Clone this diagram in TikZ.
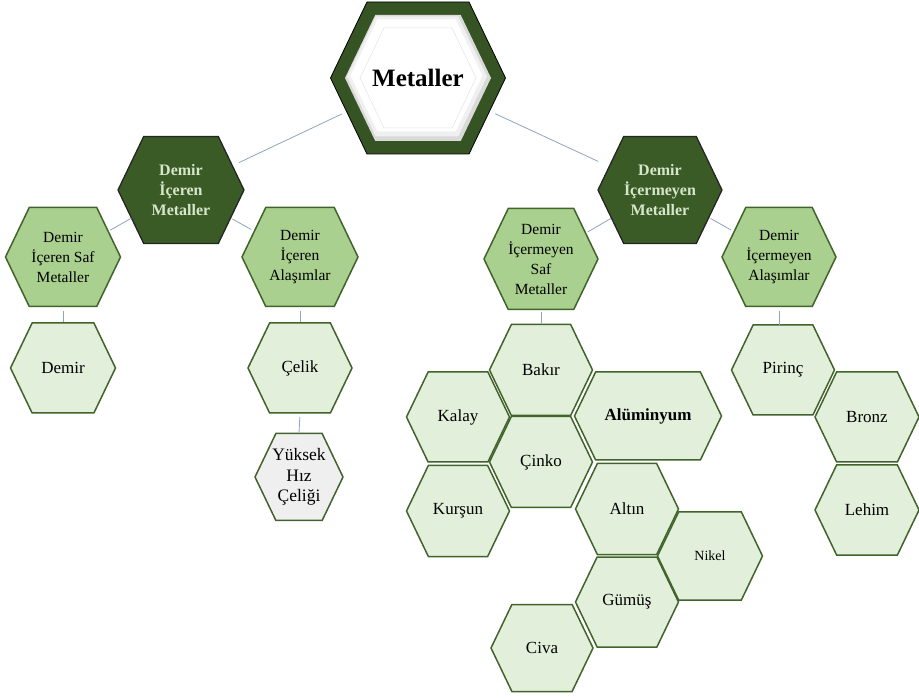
\documentclass[tikz,border=0pt]{standalone}
\usepackage{fontspec}
\setmainfont{Liberation Serif}
\usetikzlibrary{backgrounds,calc}

\definecolor{darkfill}{HTML}{3A5A26}
\definecolor{darktext}{HTML}{D6E6CB}
\definecolor{midfill}{HTML}{A9D08E}
\definecolor{leaffill}{HTML}{E2EFDA}
\definecolor{palefill}{HTML}{EFEFEF}
\definecolor{hexline}{HTML}{41632C}
\definecolor{linkcol}{HTML}{8EA5BF}

% hexagon cell: #1 kind, #2 name, #3 centre, #4 width, #5 height, #6 text
\newcommand\hexcell[6]{%
  \node[hexnode, #1 text, minimum width=#4pt, minimum height=#5pt] (#2) at (#3) {#6};
  \begin{pgfonlayer}{background}
    \path[#1 hex] (#2.west)
      -- ([xshift={0.24*#5}]#2.north west) -- ([xshift={-0.24*#5}]#2.north east)
      -- (#2.east)
      -- ([xshift={-0.24*#5}]#2.south east) -- ([xshift={0.24*#5}]#2.south west)
      -- cycle;
  \end{pgfonlayer}}

% plain hexagon: #1 style, #2 centre, #3 half width, #4 half height
\newcommand\hexshape[4]{%
  \path[#1] (#2) +(-#3,0) -- +({-#3+0.48*#4},-#4) -- +({#3-0.48*#4},-#4)
    -- +(#3,0) -- +({#3-0.48*#4},#4) -- +({-#3+0.48*#4},#4) -- cycle;}

\begin{document}
\begin{tikzpicture}[x=1pt,y=-1pt,
  hexnode/.style={rectangle, inner sep=0pt, outer sep=0pt, align=center},
  top hex/.style={fill=darkfill!92!black, draw=black, line width=0.8pt},
  top text/.style={font=\bfseries\fontsize{25}{28}\selectfont},
  dark hex/.style={fill=darkfill, draw=black!85, line width=1.3pt},
  dark text/.style={font=\bfseries\fontsize{16}{20}\selectfont, text=darktext},
  mid hex/.style={fill=midfill, draw=hexline, line width=1.5pt},
  mid text/.style={font=\fontsize{15.5}{20}\selectfont},
  leaf hex/.style={fill=leaffill, draw=hexline, line width=1.5pt},
  leaf text/.style={font=\fontsize{17}{20.5}\selectfont},
  pale hex/.style={fill=palefill, draw=hexline, line width=1.5pt},
  pale text/.style={font=\fontsize{17.5}{20.5}\selectfont},
  link/.style={draw=linkcol, line width=0.8pt}]

\useasboundingbox (0,0) rectangle (919,700);

% root with a soft bevelled white face
\hexcell{top}{meta}{418,78}{175}{152}{Metaller}
\begin{pgfonlayer}{background}
  \hexshape{fill=gray!30}{meta.center}{73}{63}
  \hexshape{fill=gray!12}{$(meta.center)+(-1,-1.5)$}{70}{60}
  \hexshape{fill=white}{$(meta.center)+(-1.5,-2.5)$}{66}{56}
  \hexshape{draw=gray!22, line width=0.5pt}{meta.center}{58}{50}
\end{pgfonlayer}

% second level
\hexcell{dark}{dl}{181,190}{126}{107}{Demir\\İçeren\\Metaller}
\hexcell{dark}{dr}{660,190}{124}{107}{Demir\\İçermeyen\\Metaller}

% third level
\hexcell{mid}{s1}{63,257}{115}{99}{Demir\\İçeren Saf\\Metaller}
\hexcell{mid}{a1}{300,257}{116}{99}{Demir\\İçeren\\Alaşımlar}
\hexcell{mid}{s2}{541,259}{114}{101}{Demir\\İçermeyen\\Saf\\Metaller}
\hexcell{mid}{a2}{779,257}{114}{99}{Demir\\İçermeyen\\Alaşımlar}

% iron-bearing leaves
\hexcell{leaf}{demir}{63,368}{105}{90}{Demir}
\hexcell{leaf}{celik}{300,368}{104}{90}{Çelik}
\hexcell{pale}{yuksek}{299,477}{88}{87}{Yüksek\\Hız\\Çeliği}

% non-ferrous pure metals
\hexcell{leaf}{bakir}{541,370}{103}{91}{Bakır}
\hexcell{leaf}{kalay}{458,417}{103}{90}{Kalay}
\hexcell{leaf}{alum}{648,416}{147}{88}{\textbf{Alüminyum}}
\hexcell{leaf}{cinko}{541,462}{103}{91}{Çinko}
\hexcell{leaf}{kursun}{458,511}{103}{91}{Kurşun}
\hexcell{leaf}{altin}{627,509}{103}{91}{Altın}
\hexcell{leaf}{nikel}{710,556}{105}{88}{\fontsize{14}{17}\selectfont Nikel}
\hexcell{leaf}{gumus}{627,602}{103}{90}{Gümüş}
\hexcell{leaf}{civa}{542,648}{102}{87}{Civa}

% non-ferrous alloys
\hexcell{leaf}{pirinc}{783,370}{103}{90}{Pirinç}
\hexcell{leaf}{bronz}{867,417}{104}{90}{Bronz}
\hexcell{leaf}{lehim}{867,510}{104}{90}{Lehim}

% connectors
\draw[link, shorten <=84pt, shorten >=64pt] (meta.center) -- (dl.center);
\draw[link, shorten <=85pt, shorten >=68pt] (meta.center) -- (dr.center);
\draw[link, shorten <=57pt, shorten >=54pt] (dl.center) -- (s1.center);
\draw[link, shorten <=59pt, shorten >=56pt] (dl.center) -- (a1.center);
\draw[link, shorten <=57pt, shorten >=54pt] (dr.center) -- (s2.center);
\draw[link, shorten <=58pt, shorten >=55pt] (dr.center) -- (a2.center);
\draw[link, shorten <=5pt, shorten >=1pt] (s1.south) -- (demir.north);
\draw[link, shorten <=5pt, shorten >=1pt] (a1.south) -- (celik.north);
\draw[link, shorten <=4pt, shorten >=1pt] (celik.south) -- (yuksek.north);
\draw[link, shorten <=3pt] (s2.south) -- (bakir.north);
\draw[link, shorten <=5pt] (a2.south) -- (a2.south |- pirinc.north);

\end{tikzpicture}
\end{document}
